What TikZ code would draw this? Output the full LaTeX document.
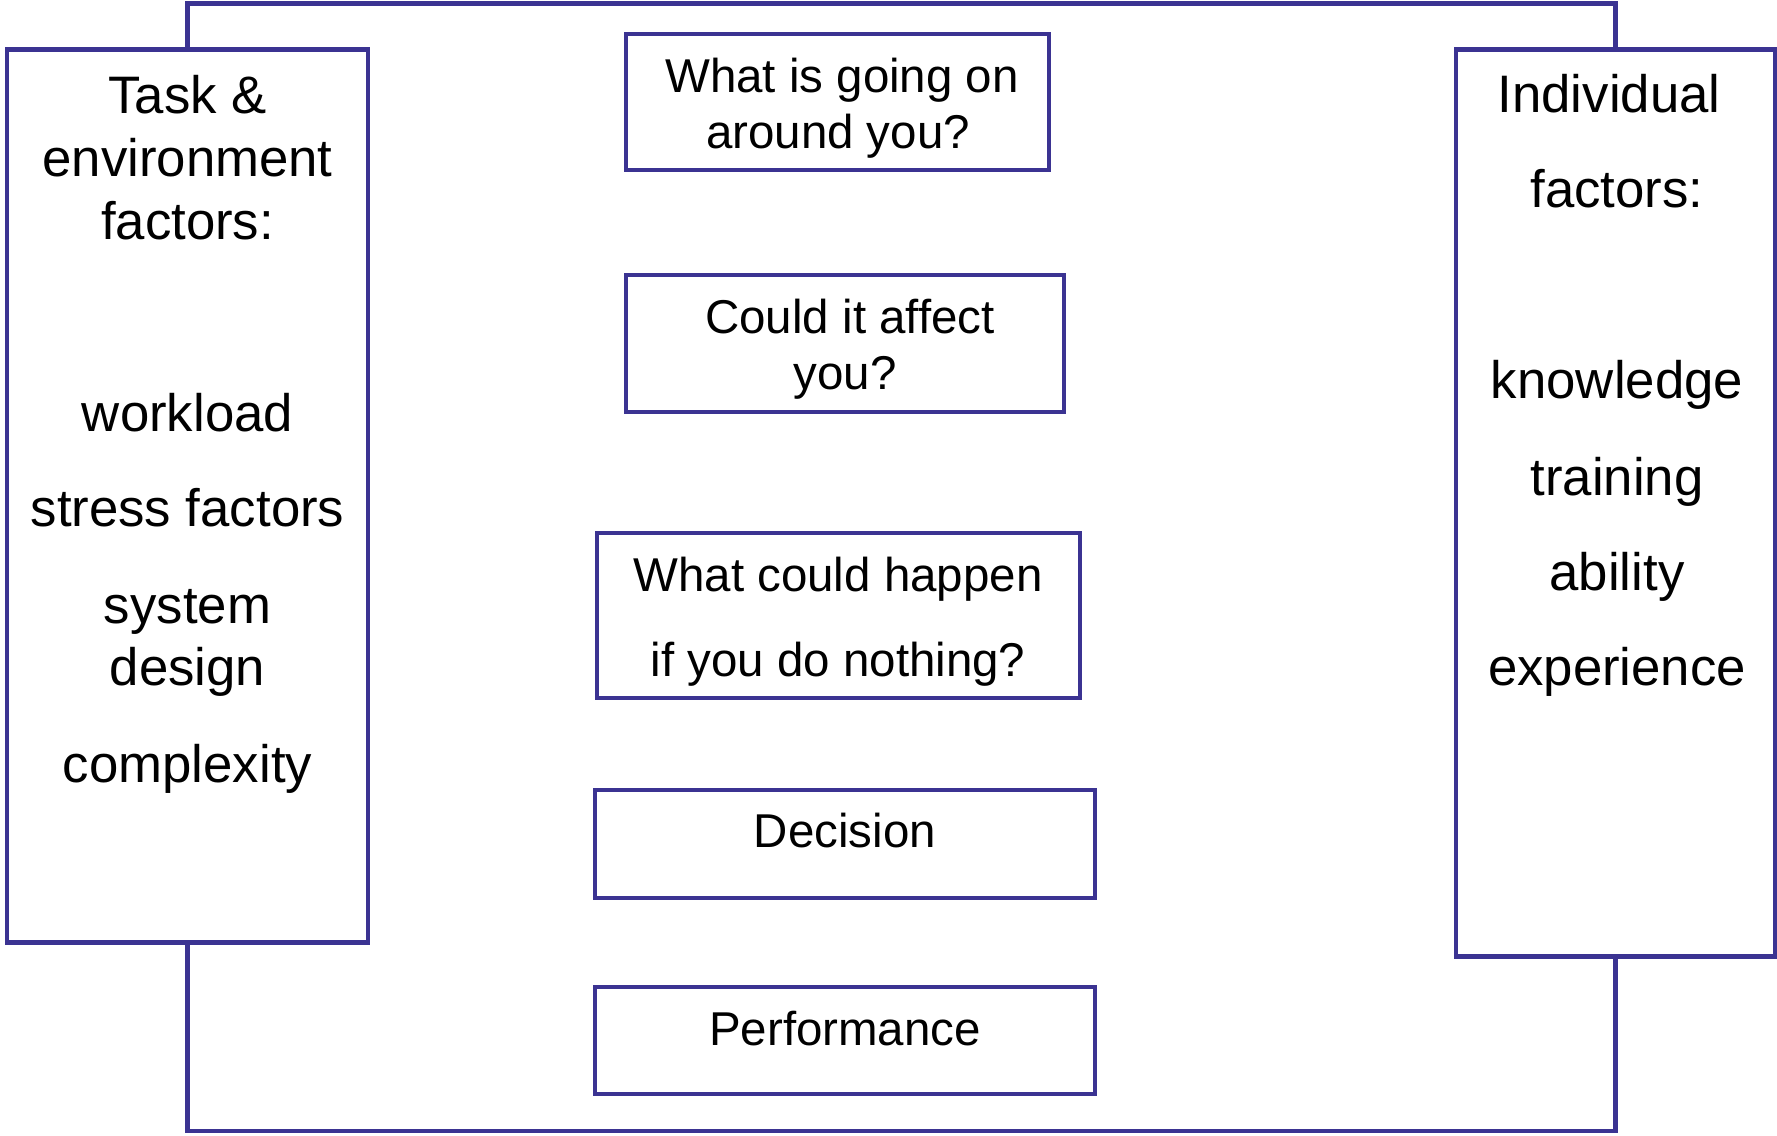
\documentclass[tikz,border=0pt]{standalone}
\usepackage{fontspec}
\setmainfont{Liberation Sans}
\usepackage{tikz}
\usetikzlibrary{positioning}

\definecolor{frameblue}{RGB}{59,51,146}

\tikzset{
  factorbox/.style={draw=frameblue, line width=1.3pt, rectangle, inner sep=0pt},
  framewire/.style={draw=frameblue, line width=1.3pt},
  sidetext/.style={font=\fontsize{15}{17}\selectfont, anchor=base, inner sep=0pt},
  midtext/.style={font=\fontsize{13.5}{16}\selectfont, anchor=base, inner sep=0pt}
}

\begin{document}
\begin{tikzpicture}[x=0.01cm, y=-0.01cm]
        \useasboundingbox (0,0) rectangle (1777,1135);

        % side boxes
        \node[factorbox, minimum width=3.61cm, minimum height=8.92cm] (task) at (187.5,496) {};
        \node[factorbox, minimum width=3.19cm, minimum height=9.06cm] (indiv) at (1615.5,503) {};

        % question boxes
        \node[factorbox, minimum width=4.23cm, minimum height=1.36cm] (qaround) at (837.5,102) {};
        \node[factorbox, minimum width=4.38cm, minimum height=1.37cm] (qaffect) at (845,343.5) {};
        \node[factorbox, minimum width=4.83cm, minimum height=1.65cm] (qnothing) at (838.5,615.5) {};
        \node[factorbox, minimum width=5.00cm, minimum height=1.08cm] (decision) at (845,844) {};
        \node[factorbox, minimum width=5.00cm, minimum height=1.07cm] (perform) at (845,1040.5) {};

        % frame joining the two side boxes
        \coordinate (topwire) at (900,3.5);
        \coordinate (botwire) at (900,1131);
        \draw[framewire] (task.north) -- (task.north |- topwire) -| (indiv.north);
        \draw[framewire] (task.south) -- (task.south |- botwire) -| (indiv.south);

        % texts
        \foreach \txt/\yy [count=\i] in {Task \&/113, environment/176, factors:/239,
                workload/431, stress factors/526, system/623, design/685, complexity/782}
            \node[sidetext] (tasktxt-\i) at (187.5,\yy) {\txt};

        \node[sidetext] (indivtxt-0) at (1609,112) {Individual};
        \foreach \txt/\yy [count=\i] in {factors:/207,
                knowledge/398, training/495, ability/590, experience/685}
            \node[sidetext] (indivtxt-\i) at (1617,\yy) {\txt};

        \node[midtext] (qaround-a) at (842,92) {What is going on};
        \node[midtext] (qaround-b) at (838,148) {around you?};
        \node[midtext] (qaffect-a) at (850,333) {Could it affect};
        \node[midtext] (qaffect-b) at (845,389) {you?};
        \node[midtext] (qnothing-a) at (838,591) {What could happen};
        \node[midtext] (qnothing-b) at (838,676) {if you do nothing?};
        \node[midtext] (decision-a) at (845,847) {Decision};
        \node[midtext] (perform-a) at (845,1045) {Performance};
\end{tikzpicture}
\end{document}
